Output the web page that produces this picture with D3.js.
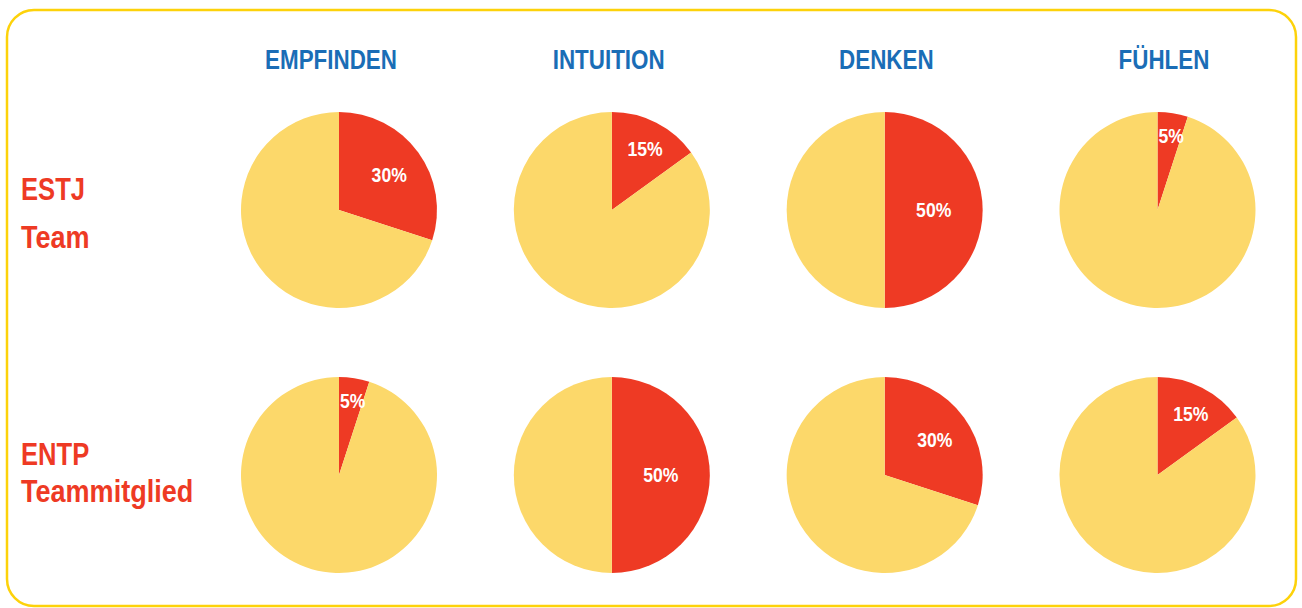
<!DOCTYPE html>
<html>
<head>
<meta charset="utf-8">
<script src="https://cdn.jsdelivr.net/npm/d3@7"></script>
<style>
  body { margin: 0; background: #fff; }
  svg text { font-family: "Liberation Sans", Arial, sans-serif; font-weight: bold; }
</style>
</head>
<body>
<div id="chart"></div>
<script>
// columns and rows of the pie grid
const columns = ["EMPFINDEN", "INTUITION", "DENKEN", "FÜHLEN"];
const rowTop = ["ESTJ", "ENTP"];
const rowBottom = ["Team", "Teammitglied"];

// share (%) of the red slice per row, per column
const estjValues = [30, 15, 50, 5];
const entpValues = [5, 50, 30, 15];

const width = 1302, height = 608;
const radius = 98;

const red = "#EE3A24", yellow = "#FCD86A", blue = "#1A6DB6", frame = "#FDD20A";

const svg = d3.select("#chart")
    .append("svg")
    .attr("width", width)
    .attr("height", height);

// condensed look: squeeze text horizontally
function label(parent, tx, ty, txt, size, sx, anchor, color) {
    return parent.append("text")
        .attr("transform", "translate(" + tx + "," + ty + ") scale(" + sx + ",1)")
        .attr("text-anchor", anchor)
        .attr("fill", color)
        .style("font-size", size + "px")
        .text(txt);
}

// rounded frame
svg.append("rect")
    .attr("x", 7).attr("y", 10)
    .attr("width", 1289).attr("height", 596)
    .attr("rx", 27).attr("ry", 27)
    .attr("fill", "none")
    .attr("stroke", frame)
    .attr("stroke-width", 2.5);

// scales for the grid
const x = d3.scalePoint().domain(columns).range([339, 1157.5]);
const xHead = d3.scalePoint().domain(columns).range([331, 1164]);
const y = d3.scalePoint().domain(rowTop).range([210, 475]);

// column headers
columns.forEach(c => label(svg, xHead(c), 69, c, 28, 0.8, "middle", blue));

// row labels
const labelY = [[200, 248], [465, 502]];
rowTop.forEach((r, i) => {
    label(svg, 21, labelY[i][0], r, 32, 0.8, "start", red);
    label(svg, 21, labelY[i][1], rowBottom[i], 32, 0.845, "start", red);
});

const pie = d3.pie().sort(null).value(d => d.v);
const arc = d3.arc().innerRadius(0).outerRadius(radius);

const rows = [estjValues, entpValues];
rows.forEach((vals, ri) => {
    vals.forEach((v, ci) => {
        const g = svg.append("g")
            .attr("transform", "translate(" + x(columns[ci]) + "," + y(rowTop[ri]) + ")");
        const slices = pie([{v: v, c: red}, {v: 100 - v, c: yellow}]);
        g.selectAll("path")
            .data(slices)
            .enter()
            .append("path")
            .attr("d", arc)
            .attr("fill", d => d.data.c);
        // label sits further out for thin slices
        const s = slices[0];
        const lr = radius * (0.8 - (v / 100) * 0.64);
        const a = (s.startAngle + s.endAngle) / 2;
        label(g, Math.sin(a) * lr + 2, -Math.cos(a) * lr + 7, v + "%", 20, 0.88, "middle", "#fff");
    });
});
</script>
</body>
</html>
